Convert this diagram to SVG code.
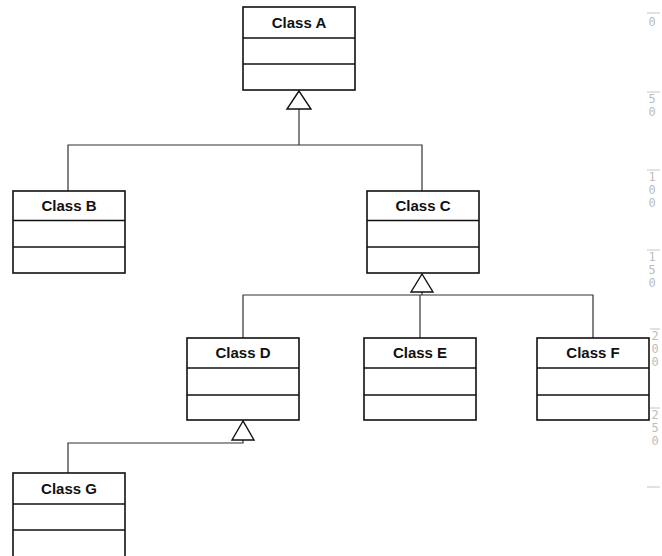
<svg xmlns="http://www.w3.org/2000/svg" width="662" height="556" viewBox="0 0 662 556">
<defs>
<style>
.box{fill:#fff;stroke:#111;stroke-width:1.6}
.div{stroke:#111;stroke-width:1.6}
.t{font-family:"Liberation Sans",Arial,sans-serif;font-weight:bold;font-size:15px;fill:#111;text-anchor:middle}
.c{fill:none;stroke:#333;stroke-width:1.2}
.tri{fill:#fff;stroke:#111;stroke-width:1.4;stroke-linejoin:miter}
.r{font-family:"DejaVu Sans Mono","Liberation Mono",monospace;font-size:12px;fill:#bdbdbd;writing-mode:vertical-rl;text-orientation:upright;letter-spacing:-1px}
.rl{stroke:#c4c4c4;stroke-width:1}
</style>
</defs>
<rect width="662" height="556" fill="#fff"/>
<g id="ruler">
<line class="rl" x1="647" y1="13" x2="660" y2="13"/>
<text class="r" x="652" y="15">0</text>
<line class="rl" x1="647" y1="92" x2="660" y2="92"/>
<text class="r" x="652" y="92">50</text>
<line class="rl" x1="647" y1="170" x2="660" y2="170"/>
<text class="r" x="652" y="170">100</text>
<line class="rl" x1="647" y1="250" x2="660" y2="250"/>
<text class="r" x="652" y="250">150</text>
<line class="rl" x1="650" y1="329" x2="660" y2="329"/>
<text class="r" x="655" y="329">200</text>
<line class="rl" x1="650" y1="408" x2="660" y2="408"/>
<text class="r" x="655" y="408">250</text>
<line class="rl" x1="647" y1="487" x2="660" y2="487"/>
</g>
<g id="connectors">
<polyline class="c" points="299,109 299,145"/>
<polyline class="c" points="68,191 68,145 422,145 422,191"/>
<polyline class="c" points="422,292 422,295"/>
<polyline class="c" points="243,338 243,295 593,295 593,338"/>
<polyline class="c" points="420,295 420,338"/>
<polyline class="c" points="243,440 243,443 68,443 68,473"/>
<polygon class="tri" points="299,91 287,109 311,109"/>
<polygon class="tri" points="422,274 411,292 433,292"/>
<polygon class="tri" points="243,421 232,440 254,440"/>
</g>
<g id="classA" transform="translate(243,7)">
<rect class="box" width="112" height="83"/>
<line class="div" x1="0" y1="31" x2="112" y2="31"/>
<line class="div" x1="0" y1="57" x2="112" y2="57"/>
<text class="t" x="56" y="21">Class A</text>
</g>
<g id="classB" transform="translate(13,191)">
<rect class="box" width="112" height="82"/>
<line class="div" x1="0" y1="29.5" x2="112" y2="29.5"/>
<line class="div" x1="0" y1="56" x2="112" y2="56"/>
<text class="t" x="56" y="20">Class B</text>
</g>
<g id="classC" transform="translate(367,191)">
<rect class="box" width="112" height="82"/>
<line class="div" x1="0" y1="29.5" x2="112" y2="29.5"/>
<line class="div" x1="0" y1="56" x2="112" y2="56"/>
<text class="t" x="56" y="20">Class C</text>
</g>
<g id="classD" transform="translate(187,338)">
<rect class="box" width="112" height="82"/>
<line class="div" x1="0" y1="30" x2="112" y2="30"/>
<line class="div" x1="0" y1="57" x2="112" y2="57"/>
<text class="t" x="56" y="20">Class D</text>
</g>
<g id="classE" transform="translate(364,338)">
<rect class="box" width="112" height="82"/>
<line class="div" x1="0" y1="30" x2="112" y2="30"/>
<line class="div" x1="0" y1="57" x2="112" y2="57"/>
<text class="t" x="56" y="20">Class E</text>
</g>
<g id="classF" transform="translate(537,338)">
<rect class="box" width="112" height="82"/>
<line class="div" x1="0" y1="30" x2="112" y2="30"/>
<line class="div" x1="0" y1="57" x2="112" y2="57"/>
<text class="t" x="56" y="20">Class F</text>
</g>
<g id="classG" transform="translate(13,473)">
<rect class="box" width="112" height="90"/>
<line class="div" x1="0" y1="31" x2="112" y2="31"/>
<line class="div" x1="0" y1="57" x2="112" y2="57"/>
<text class="t" x="56" y="21">Class G</text>
</g>
</svg>
